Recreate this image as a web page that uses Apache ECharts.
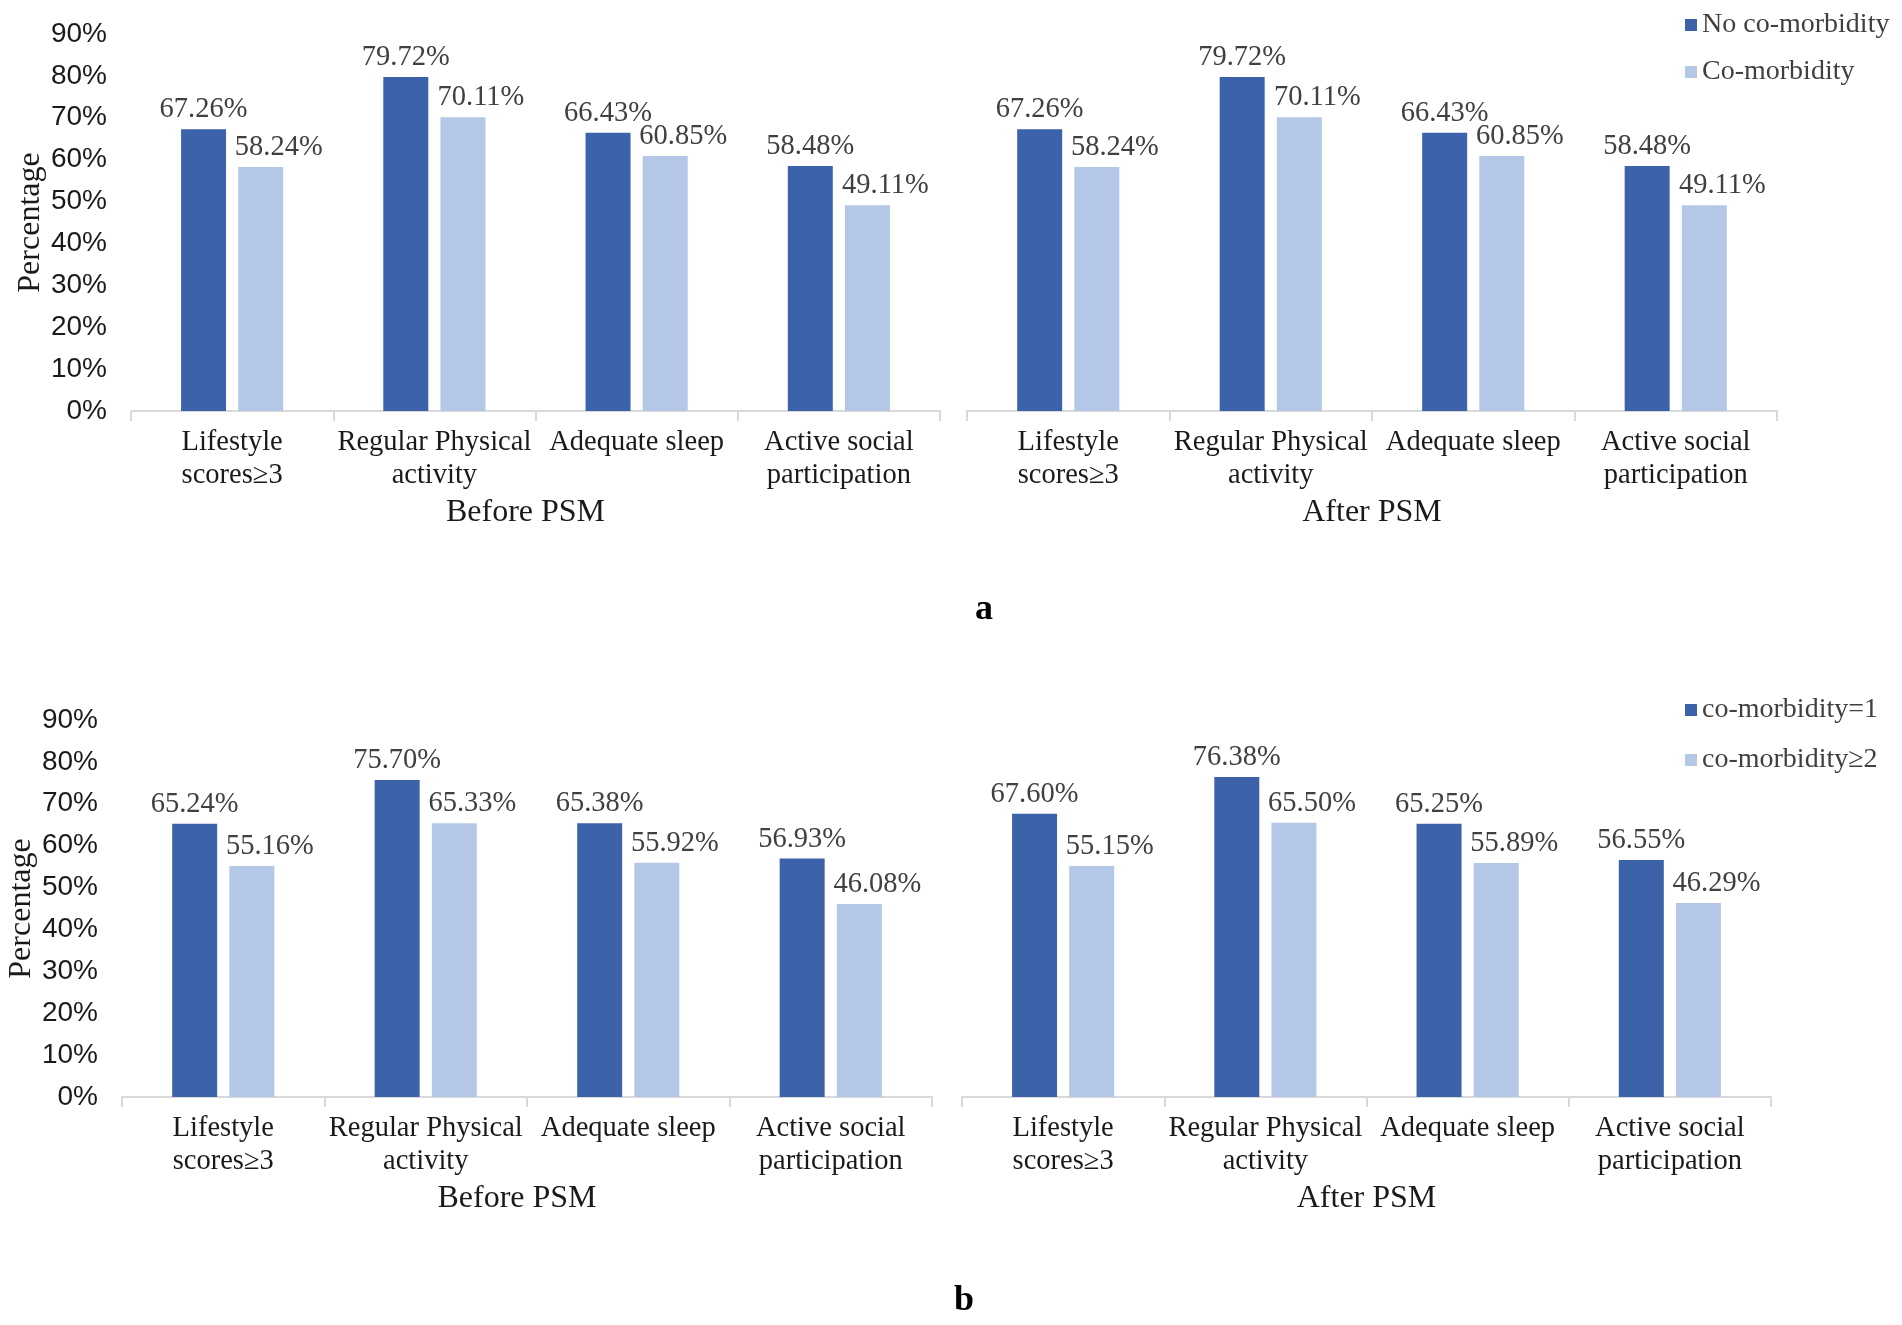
<!DOCTYPE html>
<html>
<head>
<meta charset="utf-8">
<script src="https://cdn.jsdelivr.net/npm/echarts@6/dist/echarts.min.js"></script>
<style>
  html, body { margin: 0; padding: 0; background: #fff; }
  #chart { width: 1902px; height: 1325px; }
</style>
</head>
<body>
<div id="chart"></div>
<script>
// categories and values
const categories = ['Lifestyle\nscores≥3', 'Regular Physical\nactivity', 'Adequate sleep', 'Active social\nparticipation'];
const yMax = 90;
const yStep = 10;

// panel a
const aNames = ['No co-morbidity', 'Co-morbidity'];
const aBeforeNo = [67.26, 79.72, 66.43, 58.48];
const aBeforeCo = [58.24, 70.11, 60.85, 49.11];
const aAfterNo = [67.26, 79.72, 66.43, 58.48];
const aAfterCo = [58.24, 70.11, 60.85, 49.11];

// panel b
const bNames = ['co-morbidity=1', 'co-morbidity≥2'];
const bBefore1 = [65.24, 75.70, 65.38, 56.93];
const bBefore2 = [55.16, 65.33, 55.92, 46.08];
const bAfter1 = [67.60, 76.38, 65.25, 56.55];
const bAfter2 = [55.15, 65.50, 55.89, 46.29];

const DARK = '#3c63aa';
const LIGHT = '#b4c7e7';
const serif = 'Liberation Serif';

const chart = echarts.init(document.getElementById('chart'));

function xAxis(gridIndex, name, shiftLeft) {
  return {
    type: 'category',
    gridIndex: gridIndex,
    data: categories,
    axisLine: { lineStyle: { color: '#d9d9d9', width: 2 } },
    axisTick: { show: true, length: 10, lineStyle: { color: '#d9d9d9', width: 2 } },
    axisLabel: {
      interval: 0, fontSize: 28.5, lineHeight: 33, margin: 15,
      color: '#1a1a1a', fontFamily: serif
    },
    name: name,
    nameLocation: 'middle',
    nameGap: 86,
    nameTextStyle: {
      fontSize: 32, color: '#1a1a1a', fontFamily: serif,
      padding: shiftLeft ? [0, 20, 0, 0] : 0
    }
  };
}

function yAxis(gridIndex, withLabels) {
  return {
    type: 'value',
    gridIndex: gridIndex,
    min: 0, max: yMax, interval: yStep,
    show: withLabels,
    splitLine: { show: false },
    axisLine: { show: false },
    axisTick: { show: false },
    axisLabel: {
      formatter: '{value}%', fontSize: 28, margin: 24,
      color: '#1a1a1a', fontFamily: 'Liberation Sans Narrow, Liberation Sans'
    },
    name: withLabels ? 'Percentage' : '',
    nameLocation: 'middle',
    nameRotate: 90,
    nameGap: 84,
    nameTextStyle: { fontSize: 32, color: '#1a1a1a', fontFamily: serif }
  };
}

function bar(name, data, idx, color, light) {
  return {
    type: 'bar', name: name, data: data,
    xAxisIndex: idx, yAxisIndex: idx,
    barWidth: 45, barGap: '27%',
    itemStyle: { color: color },
    label: {
      show: true, position: 'top', distance: 5,
      offset: light ? [18, 0] : [0, 0],
      formatter: p => p.value.toFixed(2) + '%',
      fontSize: 28.5, color: '#404040', fontFamily: serif
    }
  };
}

const legendStyle = {
  orient: 'vertical', icon: 'rect', itemWidth: 12, itemHeight: 12,
  textStyle: { fontSize: 28, color: '#404040', fontFamily: serif }
};

chart.setOption({
  animation: false,
  grid: [
    { left: 131, top: 34, width: 809, height: 377 },
    { left: 967, top: 34, width: 810, height: 377 },
    { left: 122, top: 720, width: 810, height: 377 },
    { left: 962, top: 720, width: 809, height: 377 }
  ],
  legend: [
    Object.assign({ data: aNames, left: 1680, top: 6, itemGap: 19 }, legendStyle),
    Object.assign({ data: bNames, left: 1680, top: 691, itemGap: 22 }, legendStyle)
  ],
  xAxis: [xAxis(0, 'Before PSM', true), xAxis(1, 'After PSM', false), xAxis(2, 'Before PSM', true), xAxis(3, 'After PSM', false)],
  yAxis: [yAxis(0, true), yAxis(1, false), yAxis(2, true), yAxis(3, false)],
  series: [
    bar(aNames[0], aBeforeNo, 0, DARK, false),
    bar(aNames[1], aBeforeCo, 0, LIGHT, true),
    bar(aNames[0], aAfterNo, 1, DARK, false),
    bar(aNames[1], aAfterCo, 1, LIGHT, true),
    bar(bNames[0], bBefore1, 2, DARK, false),
    bar(bNames[1], bBefore2, 2, LIGHT, true),
    bar(bNames[0], bAfter1, 3, DARK, false),
    bar(bNames[1], bAfter2, 3, LIGHT, true)
  ],
  graphic: [
    { type: 'text', x: 984, y: 610, style: { text: 'a', fontSize: 36, fontWeight: 'bold', fontFamily: serif, fill: '#000', textAlign: 'center', textVerticalAlign: 'middle' } },
    { type: 'text', x: 964, y: 1301, style: { text: 'b', fontSize: 36, fontWeight: 'bold', fontFamily: serif, fill: '#000', textAlign: 'center', textVerticalAlign: 'middle' } }
  ]
});
</script>
</body>
</html>
